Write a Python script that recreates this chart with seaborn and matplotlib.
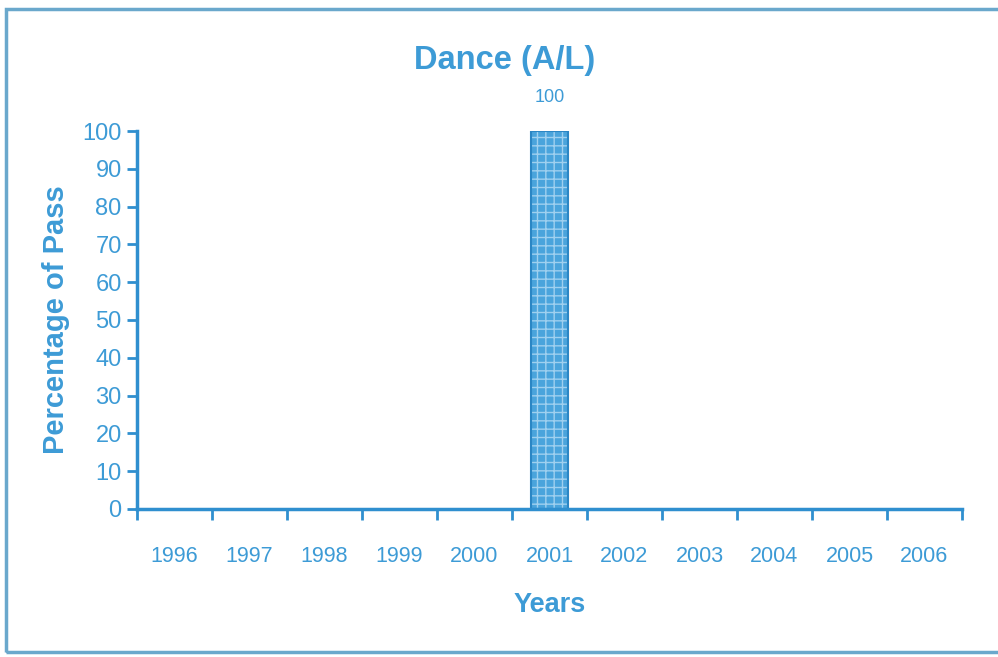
import matplotlib
matplotlib.use("Agg")
import matplotlib.pyplot as plt
from matplotlib.patches import Rectangle
import seaborn as sns
import pandas as pd

# Pass rates for A/L Dance by year
years = ["1996", "1997", "1998", "1999", "2000", "2001",
         "2002", "2003", "2004", "2005", "2006"]
pass_pct = [0, 0, 0, 0, 0, 100, 0, 0, 0, 0, 0]
y_ticks = [0, 10, 20, 30, 40, 50, 60, 70, 80, 90, 100]

df = pd.DataFrame({"Year": years, "Pass": pass_pct})

BLUE = "#3d9bd6"
AXIS_BLUE = "#2f8fcf"

sns.set_theme(style="white")
plt.rcParams["font.family"] = ["Liberation Sans", "DejaVu Sans"]

fig = plt.figure(figsize=(9.98, 6.57), dpi=100)
ax = fig.add_axes([0.1373, 0.2253, 0.8266, 0.5753])

sns.barplot(data=df, x="Year", y="Pass", ax=ax, color="#4aa4dc",
            width=0.5, saturation=1, linewidth=0)

# speckled texture and outline on the bars
for p in ax.patches:
    if p.get_height() > 0:
        p.set_hatch("++")
        p.set_edgecolor("#9fd0ef")
        p.set_linewidth(0)
        ax.add_patch(Rectangle((p.get_x(), p.get_y()), p.get_width(), p.get_height(),
                               fill=False, edgecolor="#2b86c4", linewidth=1.5, zorder=3))

# value label over the non-zero bar
for x, v in enumerate(pass_pct):
    if v > 0:
        ax.text(x, v + 6.5, f"{v}", ha="center", va="bottom",
                fontsize=13, color=BLUE)

ax.set_xlim(-0.5, len(years) - 0.5)
ax.set_ylim(0, 100)
ax.set_yticks(y_ticks)
ax.set_yticklabels([str(t) for t in y_ticks])

# x ticks at the category boundaries, labels at the centres
ax.set_xticks([i + 0.5 for i in range(-1, len(years))], minor=False)
ax.set_xticklabels([])
ax.set_xticks(range(len(years)), minor=True)
ax.set_xticklabels(years, minor=True)
ax.tick_params(axis="x", which="major", direction="out", length=8, width=2,
               color=AXIS_BLUE, bottom=True)
ax.tick_params(axis="x", which="minor", length=0, pad=27,
               labelsize=15.5, labelcolor=BLUE)
ax.tick_params(axis="y", direction="out", length=7, width=2, color=AXIS_BLUE,
               left=True, labelsize=17, labelcolor=BLUE, pad=4)

for side in ["top", "right"]:
    ax.spines[side].set_visible(False)
for side in ["left", "bottom"]:
    ax.spines[side].set_color(AXIS_BLUE)
    ax.spines[side].set_linewidth(2.5)
    ax.spines[side].set_zorder(4)

ax.set_xlabel("Years", fontsize=19.5, fontweight="bold", color=BLUE, labelpad=18)
ax.set_ylabel("Percentage of Pass", fontsize=21, fontweight="bold", color=BLUE, labelpad=9)
ax.set_title("Dance (A/L)", fontsize=23.5, fontweight="bold", color=BLUE, pad=45, x=0.445)

# page frame around the chart
fig.patches.append(Rectangle((6 / 998, 5 / 657), 1.0, 1 - 14 / 657,
                             transform=fig.transFigure, fill=False,
                             edgecolor="#6aa8cc", linewidth=2.5))

fig.savefig("out.png", dpi=100, facecolor="white")
